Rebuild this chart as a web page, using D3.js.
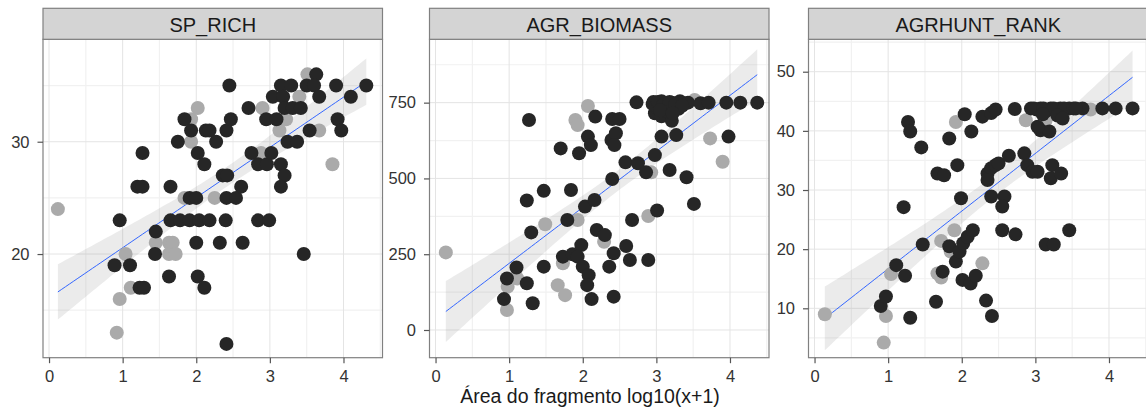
<!DOCTYPE html>
<html>
<head>
<meta charset="utf-8">
<script src="https://cdn.jsdelivr.net/npm/d3@7"></script>
<style>
  html, body { margin: 0; padding: 0; background: #fff; }
  svg { display: block; font-family: "Liberation Sans", Arial, sans-serif; }
</style>
</head>
<body>
<svg id="chart" width="1146" height="412"></svg>
<script>
// Facet titles
const panels = ["SP_RICH", "AGR_BIOMASS", "AGRHUNT_RANK"];

// x ticks (shared), y ticks per facet
const xTicks = [0, 1, 2, 3, 4];
const yTicksSp = [20, 30];
const yTicksBio = [0, 250, 500, 750];
const yTicksRank = [10, 20, 30, 40, 50];

// Points: [log10 area + 1, response, group] ; group 1 = grey, 0 = black
const spRich = [
  [0.12,24,1],[1.04,20,1],[0.96,16,1],[0.92,13,1],[1.11,17,1],[1.45,21,1],[1.63,21,1],[1.68,21,1],
  [1.63,20,1],[1.72,20,1],[1.93,32,1],[1.93,30,1],[2.02,33,1],[1.84,25,1],[2.25,25,1],[2.90,33,1],
  [2.88,29,1],[3.13,31,1],[3.22,32,1],[3.40,34,1],[3.51,36,1],[3.67,31,1],[3.85,28,1],
  [0.96,23,0],[0.89,19,0],[1.10,19,0],[1.20,26,0],[1.27,26,0],[1.27,29,0],[1.23,17,0],[1.29,17,0],
  [1.45,22,0],[1.44,20,0],[1.65,26,0],[1.63,18,0],
  [1.65,23,0],[1.78,23,0],[1.91,23,0],[2.04,23,0],[2.18,23,0],[2.40,23,0],[2.84,23,0],[2.99,23,0],
  [1.84,32,0],[1.93,31,0],[1.75,30,0],[2.13,31,0],[2.02,29,0],[2.11,28,0],[2.27,30,0],[2.45,35,0],
  [2.41,31,0],[2.47,32,0],[2.18,31,0],[2.36,27,0],[2.42,27,0],
  [1.91,25,0],[2.00,25,0],[2.41,25,0],[2.54,25,0],[2.61,26,0],
  [2.00,21,0],[2.32,21,0],[2.63,21,0],[2.02,18,0],[2.11,17,0],[2.41,12,0],
  [2.71,33,0],[2.75,29,0],[2.84,28,0],[2.96,28,0],[2.95,32,0],[3.09,32,0],[3.02,29,0],
  [3.04,34,0],[3.15,35,0],[3.29,35,0],[3.18,34,0],[3.20,33,0],[3.31,33,0],[3.42,33,0],
  [3.24,30,0],[3.37,30,0],[3.15,28,0],[3.20,27,0],[3.15,26,0],
  [3.63,36,0],[3.50,35,0],[3.60,35,0],[3.67,34,0],[3.54,31,0],[3.46,20,0],
  [3.90,35,0],[3.92,32,0],[3.97,31,0],[4.10,34,0],[4.31,35,0]
];

const agrBiomass = [
  [0.14,256,1],[0.97,66,1],[0.98,143,1],[1.11,170,1],[1.49,349,1],[1.93,363,1],[1.73,220,1],
  [1.66,148,1],[1.76,115,1],[1.90,693,1],[1.93,676,1],[2.07,739,1],[2.29,291,1],[2.89,376,1],
  [2.93,520,1],[3.52,759,1],[3.25,735,1],[3.73,632,1],[3.90,555,1],
  [0.93,102,0],[0.97,170,0],[1.10,206,0],[1.27,693,0],[1.24,427,0],[1.30,322,0],[1.24,154,0],
  [1.32,88,0],[1.47,459,0],[1.47,209,0],[1.70,599,0],[1.84,462,0],[1.79,363,0],[1.73,242,0],
  [1.86,250,0],[1.98,280,0],[1.93,242,0],[2.00,209,0],[2.08,181,0],[2.06,148,0],[2.12,102,0],
  [1.95,583,0],[2.07,638,0],[2.11,610,0],[2.17,704,0],[2.03,407,0],[2.16,429,0],[2.19,330,0],
  [2.30,313,0],[2.40,696,0],[2.50,696,0],[2.39,627,0],[2.45,649,0],[2.43,610,0],[2.40,498,0],
  [2.42,253,0],[2.36,209,0],[2.42,110,0],[2.59,277,0],[2.64,231,0],[2.58,553,0],[2.67,363,0],
  [2.73,751,0],[2.75,550,0],[2.86,520,0],[2.89,231,0],[2.98,577,0],[3.01,394,0],
  [2.96,752,0],[3.07,755,0],[3.21,750,0],[3.32,755,0],[3.43,750,0],[2.98,715,0],[3.07,705,0],
  [3.15,720,0],[3.21,690,0],[3.30,730,0],[3.12,740,0],[3.00,735,0],
  [2.95,745,0],[3.02,752,0],[3.10,745,0],[3.18,752,0],[3.26,745,0],[3.35,740,0],[3.05,725,0],[3.22,715,0],
  [3.07,638,0],[3.27,643,0],[3.18,528,0],[3.41,504,0],[3.51,416,0],[3.60,748,0],[3.71,750,0],
  [3.95,750,0],[4.14,750,0],[4.37,750,0],[3.98,638,0]
];

const agrhuntRank = [
  [0.14,9.0,1],[0.97,8.7,1],[0.94,4.2,1],[1.04,15.8,1],[1.72,21.4,1],[1.67,15.9,1],[1.72,15.2,1],
  [1.92,41.5,1],[1.90,23.2,1],[1.85,19.6,1],[2.28,17.6,1],[2.87,41.8,1],[3.14,41.8,1],[3.75,43.6,1],
  [0.90,10.4,0],[0.97,12.0,0],[1.11,17.3,0],[1.23,15.5,0],[1.30,8.4,0],[1.21,27.1,0],[1.27,41.5,0],
  [1.30,39.9,0],[1.45,37.2,0],[1.47,20.8,0],[1.65,11.1,0],[1.67,32.8,0],[1.76,32.5,0],[1.74,16.2,0],
  [1.83,38.7,0],[1.94,34.2,0],[1.83,20.5,0],
  [1.92,17.9,0],[1.97,19.6,0],[2.02,21.0,0],[2.08,22.1,0],[2.15,23.2,0],[1.99,28.6,0],[2.04,42.8,0],
  [2.13,39.9,0],[2.01,14.8,0],[2.12,14.2,0],[2.19,15.5,0],
  [2.28,42.4,0],[2.40,43.0,0],[2.46,43.6,0],[2.35,32.8,0],[2.40,33.7,0],[2.46,34.2,0],[2.50,34.5,0],
  [2.35,31.7,0],[2.40,28.9,0],[2.58,28.9,0],[2.55,27.2,0],[2.33,11.3,0],[2.41,8.7,0],[2.55,23.2,0],
  [2.73,22.5,0],[2.64,35.8,0],[2.72,43.7,0],
  [2.85,36.2,0],[2.89,34.2,0],[2.96,33.1,0],[3.03,33.1,0],
  [2.94,43.8,0],[3.07,43.8,0],[3.21,43.8,0],[3.34,43.8,0],[3.46,43.8,0],[3.64,43.8,0],[3.91,43.8,0],
  [4.09,43.8,0],[4.32,43.8,0],[3.02,43.6,0],[3.15,43.4,0],[3.28,43.6,0],
  [2.98,43.8,0],[3.11,43.8,0],[3.25,43.8,0],[3.39,43.8,0],[3.52,43.8,0],[3.10,42.8,0],[3.30,42.6,0],[3.55,43.8,0],
  [3.37,42.1,0],[3.07,40.1,0],[3.19,39.9,0],[3.03,40.7,0],
  [3.23,34.2,0],[3.21,32.0,0],[3.35,32.8,0],[3.14,20.8,0],[3.25,20.8,0],[3.46,23.2,0]
];

const xTitle = "Área do fragmento log10(x+1)";

// ---- layout ----
const panelLefts = [43, 429.5, 808.5];
const panelW = 339.5;
const stripTop = 8.3, stripH = 31;
const panelTop = stripTop + stripH, panelBottom = 357.7;
const xDomain = [-0.082, 4.53];
const yDomains = [[10.77, 39.12], [-91.4, 959], [1.65, 55.48]];
const yTickSets = [yTicksSp, yTicksBio, yTicksRank];
const datasets = [spRich, agrBiomass, agrhuntRank];

const svg = d3.select("#chart");

// Linear fit with 95% confidence band (like lm smoother)
function linFit(pts) {
  const n = pts.length;
  const xm = d3.mean(pts, d => d[0]), ym = d3.mean(pts, d => d[1]);
  let sxx = 0, sxy = 0;
  pts.forEach(d => { sxx += (d[0]-xm)**2; sxy += (d[0]-xm)*(d[1]-ym); });
  const b = sxy / sxx, a = ym - b * xm;
  let sse = 0;
  pts.forEach(d => { sse += (d[1] - a - b*d[0])**2; });
  const s = Math.sqrt(sse / (n - 2));
  const df = n - 2, z = 1.959964;
  const t = z + (z**3 + z) / (4*df) + (5*z**5 + 16*z**3 + 3*z) / (96*df*df);
  const x0 = d3.min(pts, d => d[0]), x1 = d3.max(pts, d => d[0]);
  const grid = d3.range(0, 81).map(i => x0 + (x1 - x0) * i / 80);
  return grid.map(x => {
    const fit = a + b*x;
    const se = s * Math.sqrt(1/n + (x-xm)**2 / sxx);
    return { x, fit, lo: fit - t*se, hi: fit + t*se };
  });
}

panels.forEach((name, i) => {
  const left = panelLefts[i];
  const x = d3.scaleLinear().domain(xDomain).range([left, left + panelW]);
  const y = d3.scaleLinear().domain(yDomains[i]).range([panelBottom, panelTop]);
  const g = svg.append("g");

  // clip for panel contents
  const clipId = "clip" + i;
  svg.append("clipPath").attr("id", clipId)
    .append("rect").attr("x", left).attr("y", panelTop)
    .attr("width", panelW).attr("height", panelBottom - panelTop);

  const inner = g.append("g").attr("clip-path", `url(#${clipId})`);
  inner.append("rect").attr("x", left).attr("y", panelTop)
    .attr("width", panelW).attr("height", panelBottom - panelTop).attr("fill", "#fff");

  // minor grid
  const xMinor = xTicks.map(v => v + 0.5).filter(v => v > xDomain[0] && v < xDomain[1]);
  const yt = yTickSets[i];
  const step = yt[1] - yt[0];
  const yMinor = d3.range(yt[0] - step/2, yDomains[i][1], step).filter(v => v > yDomains[i][0]);
  inner.selectAll(".xmin").data(xMinor).join("line")
    .attr("x1", d => x(d)).attr("x2", d => x(d)).attr("y1", panelTop).attr("y2", panelBottom)
    .attr("stroke", "#f1f1f1").attr("stroke-width", 1.2);
  inner.selectAll(".ymin").data(yMinor).join("line")
    .attr("y1", d => y(d)).attr("y2", d => y(d)).attr("x1", left).attr("x2", left + panelW)
    .attr("stroke", "#f1f1f1").attr("stroke-width", 1.2);
  // major grid
  inner.selectAll(".xmaj").data(xTicks).join("line")
    .attr("x1", d => x(d)).attr("x2", d => x(d)).attr("y1", panelTop).attr("y2", panelBottom)
    .attr("stroke", "#e4e4e4").attr("stroke-width", 1);
  inner.selectAll(".ymaj").data(yt).join("line")
    .attr("y1", d => y(d)).attr("y2", d => y(d)).attr("x1", left).attr("x2", left + panelW)
    .attr("stroke", "#e4e4e4").attr("stroke-width", 1);

  // smoother
  const pts = datasets[i];
  const band = linFit(pts);
  inner.append("path").datum(band)
    .attr("d", d3.area().x(d => x(d.x)).y0(d => y(d.lo)).y1(d => y(d.hi)))
    .attr("fill", "#999").attr("fill-opacity", 0.2);
  inner.append("path").datum(band)
    .attr("d", d3.line().x(d => x(d.x)).y(d => y(d.fit)))
    .attr("fill", "none").attr("stroke", "#3366FF").attr("stroke-width", 1);

  // points: grey first, black on top
  const ordered = pts.filter(d => d[2] === 1).concat(pts.filter(d => d[2] === 0));
  inner.selectAll("circle").data(ordered).join("circle")
    .attr("cx", d => x(d[0])).attr("cy", d => y(d[1])).attr("r", 7)
    .attr("fill", d => d[2] === 1 ? "#aaaaaa" : "#262626");

  // panel border
  g.append("rect").attr("x", left).attr("y", panelTop)
    .attr("width", panelW).attr("height", panelBottom - panelTop)
    .attr("fill", "none").attr("stroke", "#808080").attr("stroke-width", 1.2);

  // strip
  g.append("rect").attr("x", left).attr("y", stripTop)
    .attr("width", panelW).attr("height", stripH)
    .attr("fill", "#d4d4d4").attr("stroke", "#808080").attr("stroke-width", 1.2);
  g.append("text").attr("x", left + panelW/2).attr("y", stripTop + 24)
    .attr("text-anchor", "middle").attr("font-size", 20).attr("fill", "#1a1a1a").text(name);

  // axes
  const xAxis = g.append("g").attr("transform", `translate(0,${panelBottom})`)
    .call(d3.axisBottom(x).tickValues(xTicks).tickSize(5.5).tickPadding(7).tickFormat(d3.format("d")));
  const yAxis = g.append("g").attr("transform", `translate(${left},0)`)
    .call(d3.axisLeft(y).tickValues(yt).tickSize(5.5).tickPadding(8).tickFormat(d3.format("d")));
  [xAxis, yAxis].forEach(ax => {
    ax.select(".domain").remove();
    ax.selectAll(".tick line").attr("stroke", "#555").attr("stroke-width", 1.2);
    ax.selectAll(".tick text").attr("fill", "#333").attr("font-size", 16.5)
      .attr("font-family", "Liberation Sans, Arial, sans-serif");
  });
});

svg.append("text").attr("x", 590).attr("y", 403).attr("text-anchor", "middle")
  .attr("font-size", 19.5).attr("fill", "#1a1a1a").text(xTitle);
</script>
</body>
</html>
